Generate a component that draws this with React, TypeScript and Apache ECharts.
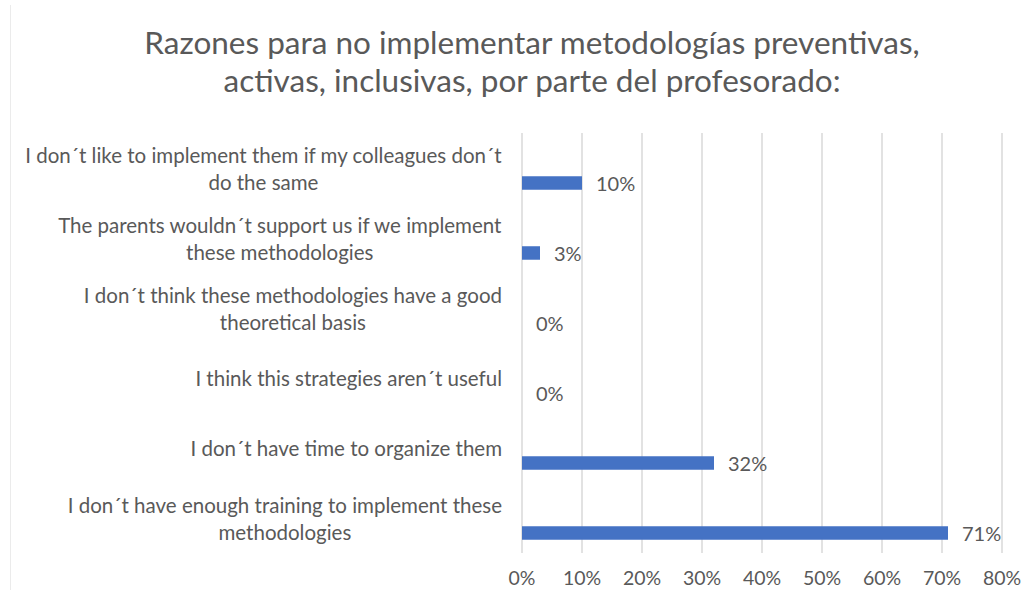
import React, { useEffect, useRef } from "react";
import * as echarts from "echarts";

const titleText = "Razones para no implementar metodologías preventivas,\nactivas, inclusivas, por parte del profesorado:";

const categories = [
  "I don´t like to implement them if my colleagues don´t\ndo the same",
  "The parents wouldn´t support us if we implement\nthese methodologies",
  "I don´t think these methodologies have a good\ntheoretical basis",
  "I think this strategies aren´t useful",
  "I don´t have time to organize them",
  "I don´t have enough training to implement these\nmethodologies",
];

const values = [10, 3, 0, 0, 32, 71];

const xTicks = { min: 0, max: 80, interval: 10 };

const FONT = "Lato";
const GRAY = "#595959";

export default function App() {
  const ref = useRef<HTMLDivElement>(null);

  useEffect(() => {
    document.body.style.margin = "0";
    const chart = echarts.init(ref.current!, null, { renderer: "svg" });
    chart.setOption({
      animation: false,
      backgroundColor: "#ffffff",
      title: {
        text: titleText,
        left: 527,
        top: 18,
        textAlign: "center",
        textStyle: {
          fontFamily: FONT,
          fontSize: 31.5,
          fontWeight: "normal",
          color: GRAY,
          lineHeight: 38,
        },
      },
      graphic: [
        {
          type: "line",
          shape: { x1: 10.5, y1: 5, x2: 10.5, y2: 590 },
          style: { stroke: "#ebebeb", lineWidth: 1 },
        },
      ],
      grid: {
        left: 522,
        right: 29,
        top: 133,
        bottom: 37,
        containLabel: false,
        outerBoundsMode: "none",
      },
      xAxis: {
        type: "value",
        min: xTicks.min,
        max: xTicks.max,
        interval: xTicks.interval,
        axisLine: { show: false },
        axisTick: { show: false },
        splitLine: { show: true, lineStyle: { color: "#d9d9d9", width: 1.5 } },
        axisLabel: {
          formatter: "{value}%",
          color: GRAY,
          fontFamily: FONT,
          fontSize: 19.5,
          lineHeight: 20,
          margin: 14,
        },
      },
      yAxis: {
        type: "category",
        inverse: true,
        data: categories,
        axisLine: { show: false },
        axisTick: { show: false },
        splitLine: { show: false },
        axisLabel: {
          margin: 20,
          align: "right",
          formatter: (v: string) =>
            v
              .split("\n")
              .map((l) => `{c|${l}}`)
              .join("\n"),
          rich: {
            c: {
              align: "center",
              fontFamily: FONT,
              fontSize: 20.5,
              color: GRAY,
              lineHeight: 27,
            },
          },
        },
      },
      series: [
        {
          name: "spacer",
          type: "bar",
          data: categories.map(() => null),
          barWidth: 13.5,
          barGap: "122%",
          silent: true,
        },
        {
          name: "Porcentaje",
          type: "bar",
          data: values,
          barWidth: 13.5,
          barGap: "122%",
          itemStyle: { color: "#4472c4" },
          label: {
            show: true,
            position: "right",
            distance: 14,
            formatter: "{c}%",
            color: GRAY,
            fontFamily: FONT,
            fontSize: 20,
          },
        },
      ],
    });
    return () => chart.dispose();
  }, []);

  return (
    <div
      ref={ref}
      style={{ position: "fixed", left: 0, top: 0, width: 1031, height: 590 }}
    />
  );
}
